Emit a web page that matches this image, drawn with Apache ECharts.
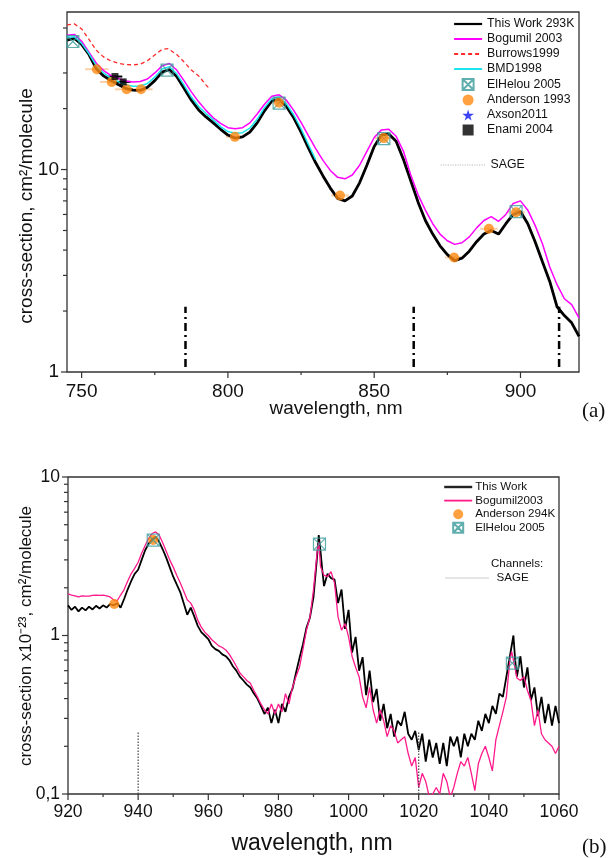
<!DOCTYPE html>
<html><head><meta charset="utf-8">
<script src="https://cdn.jsdelivr.net/npm/echarts@6/dist/echarts.min.js"></script>
<style>html,body{margin:0;padding:0;background:#fff}#c{width:611px;height:858px}</style>
</head><body><div id="c"></div>
<script>
// ================= Panel (a) data =================
const aXTicks = [750, 800, 850, 900];
const aXMinor = [775, 825, 875];
const aYTicks = [1, 10];
const aYMinor = [2, 3, 4, 5, 6, 7, 8, 9, 20, 30, 50];

const aThisWork = [[745,43.5],[747.5,44.6],[750,41.5],[752.5,37],[755,31.5],[757.5,29],[760,27.5],[762.5,26.3],[765,25.2],[767.5,24.7],[770,24.6],[772.5,25.5],[775,27.5],[777.5,30.3],[780,31.2],[782.5,28.8],[785,25.2],[787.5,22],[790,19.7],[792.5,18.2],[795,17],[797.5,15.8],[800,14.8],[802.5,14.3],[805,14.5],[807.5,15.3],[810,17],[812.5,19.5],[815,21.8],[817.5,22.3],[820,20.5],[822.5,18],[825,15.3],[827.5,12.8],[830,10.8],[832.5,9.3],[835,8.1],[837.5,7.2],[840,7.0],[842.5,7.4],[845,8.6],[847.5,10.5],[850,13],[852.5,14.8],[855,15],[857.5,13.8],[860,11.2],[862.5,8.8],[865,6.9],[867.5,5.6],[870,4.8],[872.5,4.2],[875,3.8],[877.5,3.55],[880,3.65],[882.5,3.95],[885,4.4],[887.5,4.8],[890,5.0],[892.5,4.8],[895,5.4],[897.5,6.0],[900,6.2],[902.5,5.4],[905,4.4],[907.5,3.5],[910,2.8],[912.5,2.1],[915,1.9],[917.5,1.75],[920,1.5]];
const aBogumil = [[745,46],[747.5,46.5],[750,43],[752.5,38],[755,33.5],[757.5,30.8],[760,29.2],[762.5,28.2],[765,27.4],[767.5,27.1],[770,27.2],[772.5,28],[775,30],[777.5,32.5],[780,33.4],[782.5,31],[785,27.5],[787.5,24.2],[790,21.6],[792.5,19.6],[795,18],[797.5,16.9],[800,16.1],[802.5,15.9],[805,16.1],[807.5,17],[810,18.8],[812.5,21],[815,23],[817.5,23.4],[820,22],[822.5,19.6],[825,17.1],[827.5,14.7],[830,12.7],[832.5,11.1],[835,9.9],[837.5,9.15],[840,9.0],[842.5,9.4],[845,10.5],[847.5,12.3],[850,14.4],[852.5,15.7],[855,15.8],[857.5,14.6],[860,12.3],[862.5,9.4],[865,7.5],[867.5,6.3],[870,5.4],[872.5,4.8],[875,4.45],[877.5,4.27],[880,4.35],[882.5,4.65],[885,5.15],[887.5,5.6],[890,5.85],[892.5,5.55],[895,6.0],[897.5,6.8],[900,7.0],[902.5,6.3],[905,5.3],[907.5,4.3],[910,3.3],[912.5,2.7],[915,2.3],[917.5,2.15],[920,1.85]];
const aBurrows = [[745,51.8],[747.5,52.4],[750,49.5],[752.5,44],[755,38.8],[757.5,36],[760,34.4],[762.5,33.5],[765,33],[767.5,32.9],[770,33.1],[772.5,34.5],[775,36.8],[777.5,39.2],[779.5,39.6],[782.5,37],[785,34],[787.5,31],[790,29],[792.5,26.2],[794,24.8]];
const aBMD = [[745,45],[747.5,45.3],[750,42],[752.5,37.4],[755,32.6],[757.5,30],[760,28.3],[762.5,27.2],[765,26.2],[767.5,25.8],[770,25.8],[772.5,26.6],[775,28.6],[777.5,31.4],[780,32.2],[782.5,29.7],[785,26.1],[787.5,22.8],[790,20.5],[792.5,18.9],[795,17.6],[797.5,16.3],[800,15.4],[802.5,15.1],[805,15.2],[807.5,16],[810,17.7],[812.5,20.2],[815,22.4],[817.5,22.8],[820,21.1],[822.5,18.6],[825,15.9],[827.5,13.3],[830,11.2]];
const aElHelou = [[747,42.9],[779.2,31.0],[817.5,21.3],[853.3,14.2],[898.5,6.2]];
const aAnderson = [[755.2,31.3],[760.3,27.1],[765.4,24.9],[770.3,24.9],[802.4,14.5],[817.5,21.4],[838.3,7.45],[853.3,14.3],[877.3,3.68],[889.2,5.1],[898.5,6.15]];
const aAndersonErr = [4, 4, 4, 4, 3, 3, 3, 3, 3, 3, 3];
const aAxson = [];
const aEnami = [[761.4,28.8],[764.2,27.1]];
const aEnamiErr = [2.5, 2.5];
const aSage = [785.5, 863.5, 913.2];
const aSageRange = [1.06, 2.1];

// ================= Panel (b) data =================
const bXTicks = [920, 940, 960, 980, 1000, 1020, 1040, 1060];
const bXMinor = [930, 950, 970, 990, 1010, 1030, 1050];
const bYTicks = [0.1, 1, 10];
const bYLabels = ['0,1', '1', '10'];
const bYMinor = [0.2,0.3,0.4,0.5,0.6,0.7,0.8,0.9,2,3,4,5,6,7,8,9];

const bThisWork = [[920,1.55],[921,1.45],[922,1.52],[923,1.42],[924,1.5],[925,1.44],[926,1.52],[927,1.46],[928,1.54],[929,1.48],[930,1.55],[931,1.5],[932,1.58],[933,1.55],[934,1.6],[935,1.5],[936,1.7],[937,1.95],[938,2.2],[939,2.45],[940,2.6],[941,3.0],[942,3.45],[943,3.8],[944,4.05],[945,4.2],[946,3.9],[947,3.5],[948,3.1],[949,2.7],[950,2.35],[951,2.1],[952,1.88],[953,1.6],[954,1.35],[955,1.5],[956,1.32],[957,1.15],[958,1.05],[959,1.0],[960,0.95],[961,0.86],[962,0.82],[963,0.8],[964,0.76],[965,0.74],[966,0.70],[967,0.64],[968,0.60],[969,0.55],[970,0.52],[971,0.49],[972,0.47],[973,0.43],[974,0.40],[975,0.36],[976,0.32],[977,0.35],[978,0.28],[979,0.34],[980,0.28],[981,0.37],[982,0.33],[983,0.41],[984,0.46],[985,0.58],[986,0.72],[987,0.88],[988,1.12],[989,1.3],[990,1.75],[991,3.1],[991.5,4.3],[992,3.4],[992.5,2.6],[993,2.05],[994,2.45],[995,2.3],[996,2.25],[997,1.6],[998,1.95],[999,1.1],[1000,1.45],[1001,0.78],[1002,0.98],[1003,0.6],[1004,0.73],[1005,0.42],[1006,0.6],[1007,0.38],[1008,0.46],[1009,0.29],[1010,0.37],[1011,0.26],[1012,0.32],[1013,0.23],[1014,0.29],[1015,0.27],[1016,0.33],[1017,0.24],[1018,0.22],[1019,0.25],[1020,0.19],[1021,0.24],[1022,0.16],[1023,0.22],[1024,0.17],[1025,0.21],[1026,0.155],[1027,0.21],[1028,0.15],[1029,0.23],[1030,0.2],[1031,0.23],[1032,0.17],[1033,0.24],[1034,0.2],[1035,0.24],[1036,0.22],[1037,0.29],[1038,0.25],[1039,0.32],[1040,0.28],[1041,0.36],[1042,0.32],[1043,0.43],[1044,0.41],[1045,0.55],[1046,0.74],[1047,1.0],[1047.5,0.7],[1048,0.55],[1049,0.74],[1050,0.47],[1051,0.63],[1052,0.39],[1053,0.47],[1054,0.31],[1055,0.41],[1056,0.28],[1057,0.37],[1058,0.27],[1059,0.36],[1060,0.28]];
const bBogumil = [[920,1.83],[921,1.8],[922,1.78],[923,1.75],[924,1.78],[925,1.77],[926,1.77],[927,1.79],[928,1.8],[929,1.79],[930,1.8],[931,1.78],[932,1.75],[933,1.68],[934,1.65],[935,1.8],[936,1.95],[937,2.2],[938,2.45],[939,2.65],[940,2.9],[941,3.3],[942,3.7],[943,4.1],[944,4.4],[945,4.5],[946,4.3],[947,3.85],[948,3.4],[949,3.0],[950,2.7],[951,2.4],[952,2.15],[953,1.9],[954,1.68],[955,1.6],[956,1.45],[957,1.25],[958,1.13],[959,1.05],[960,1.0],[961,0.94],[962,0.9],[963,0.86],[964,0.84],[965,0.81],[966,0.76],[967,0.7],[968,0.64],[969,0.58],[970,0.55],[971,0.52],[972,0.5],[973,0.45],[974,0.41],[975,0.37],[976,0.34],[977,0.32],[978,0.37],[979,0.32],[980,0.37],[981,0.33],[982,0.43],[983,0.37],[984,0.47],[985,0.55],[986,0.63],[987,0.82],[988,1.08],[989,1.31],[990,1.94],[991,3.3],[991.5,3.9],[992,2.72],[993,2.4],[994,2.35],[995,2.53],[996,2.14],[997,1.31],[998,1.08],[999,1.19],[1000,0.98],[1001,0.74],[1002,0.63],[1003,0.55],[1004,0.41],[1005,0.35],[1006,0.47],[1007,0.34],[1008,0.28],[1009,0.34],[1010,0.29],[1011,0.23],[1012,0.27],[1013,0.25],[1014,0.21],[1015,0.22],[1016,0.23],[1017,0.18],[1018,0.15],[1019,0.17],[1020,0.11],[1021,0.135],[1022,0.12],[1023,0.096],[1024,0.1],[1025,0.11],[1026,0.1],[1027,0.135],[1028,0.12],[1029,0.095],[1030,0.11],[1031,0.135],[1032,0.16],[1033,0.15],[1034,0.17],[1035,0.135],[1036,0.105],[1037,0.155],[1038,0.18],[1039,0.2],[1040,0.17],[1041,0.14],[1042,0.22],[1043,0.27],[1044,0.33],[1045,0.41],[1046,0.7],[1046.5,0.79],[1047,0.7],[1048,0.54],[1049,0.52],[1050,0.55],[1051,0.45],[1052,0.39],[1053,0.27],[1054,0.34],[1055,0.24],[1056,0.22],[1057,0.21],[1058,0.2],[1059,0.18],[1060,0.2]];
const bAnderson = [[933.2,1.58],[944.3,4.0]];
const bElHelou = [[944.3,4.0],[991.7,3.77],[1046.7,0.67]];
const bSage = [940, 1020];
const bSageRange = [0.1, 0.25];

// ================= styling =================
const FONT = '"Liberation Sans", Arial, Helvetica, sans-serif';
const SERIF = '"Liberation Serif", "Times New Roman", serif';
const AXC = '#333';
const A = {xMin: 745, xMax: 920, yMin: 1, yMax: 60};
const B = {xMin: 920, xMax: 1060, yMin: 0.1, yMax: 10};
const BOX = 'path://M0,0 L10,0 L10,10 L0,10 Z M0,0 L10,10 M10,0 L0,10';
const SQUARE = 'path://M0,0 L10,0 L10,10 L0,10 Z';
const STAR = 'path://M50,0 L61,35 L98,35 L68,57 L79,91 L50,70 L21,91 L32,57 L2,35 L39,35 Z';
const NOSYM = {color: 'rgba(0,0,0,0)', borderColor: 'rgba(0,0,0,0)', borderWidth: 0};

function txt(text, size, family, align, vAlign) {
  return {text, fill: '#111', font: size + 'px ' + family,
    align, verticalAlign: vAlign, textAlign: align, textVerticalAlign: vAlign};
}
function xTicks(gi, vals, yBase, len, fmt, fs, dy) {
  return {type: 'custom', xAxisIndex: gi, yAxisIndex: gi, silent: true, clip: false, z: 6,
    data: vals.map(v => [v, yBase]),
    renderItem: (p, api) => {
      const v = api.value(0); const c = api.coord([v, yBase]);
      const ch = [{type: 'line', shape: {x1: c[0], y1: c[1], x2: c[0], y2: c[1] + len}, style: {stroke: AXC, lineWidth: 1.2}}];
      if (fmt) ch.push({type: 'text', x: c[0], y: c[1] + dy, style: txt(fmt(v, p.dataIndex), fs, FONT, 'center', 'middle')});
      return {type: 'group', children: ch};
    }};
}
function yTicks(gi, vals, xBase, len, fmt, fs, dx) {
  return {type: 'custom', xAxisIndex: gi, yAxisIndex: gi, silent: true, clip: false, z: 6,
    data: vals.map(v => [xBase, v]),
    renderItem: (p, api) => {
      const v = api.value(1); const c = api.coord([xBase, v]);
      const ch = [{type: 'line', shape: {x1: c[0] - len, y1: c[1], x2: c[0], y2: c[1]}, style: {stroke: AXC, lineWidth: 1.2}}];
      if (fmt) ch.push({type: 'text', x: c[0] - dx, y: c[1], style: txt(fmt(v, p.dataIndex), fs, FONT, 'right', 'middle')});
      return {type: 'group', children: ch};
    }};
}
function errBars(gi, pts, errs, color) {
  return {type: 'custom', xAxisIndex: gi, yAxisIndex: gi, silent: true, clip: true, z: 2,
    data: pts.map((d, i) => [d[0], d[1], errs[i]]),
    renderItem: (p, api) => {
      const x = api.value(0), y = api.value(1), e = api.value(2);
      const a = api.coord([x - e, y]), b = api.coord([x + e, y]);
      return {type: 'line', shape: {x1: a[0], y1: a[1], x2: b[0], y2: b[1]}, style: {stroke: color, lineWidth: 2}};
    }};
}
function vLines(name, gi, xs, range, style) {
  return xs.map(x => ({type: 'line', name, xAxisIndex: gi, yAxisIndex: gi, symbol: 'none', silent: true,
    data: [[x, range[0]], [x, range[1]]], lineStyle: style, z: 3}));
}
function lineS(name, gi, data, color, width, type) {
  return {type: 'line', name, xAxisIndex: gi, yAxisIndex: gi, data, symbol: 'none', silent: true,
    lineStyle: {color, width, type: type || 'solid'}, itemStyle: {color}, z: 3};
}
function scatterS(name, gi, data, symbol, size, itemStyle) {
  return {type: 'scatter', name, xAxisIndex: gi, yAxisIndex: gi, data, symbol, symbolSize: size,
    silent: true, itemStyle, z: 4};
}
function lineLegend(name, extra) {
  return {name, itemStyle: NOSYM, lineStyle: extra || undefined};
}
const hiddenAxis = {axisLine: {show: false}, axisTick: {show: false}, axisLabel: {show: false}, splitLine: {show: false}};

const chart = echarts.init(document.getElementById('c'), null, {renderer: 'canvas'});
const option = {
  animation: false,
  backgroundColor: '#fff',
  grid: [
    {left: 67, top: 12, width: 512, height: 360, show: true, borderColor: AXC, borderWidth: 1.3},
    {left: 68, top: 477, width: 491, height: 317, show: true, borderColor: AXC, borderWidth: 1.3}
  ],
  xAxis: [
    Object.assign({type: 'value', gridIndex: 0, min: A.xMin, max: A.xMax}, hiddenAxis),
    Object.assign({type: 'value', gridIndex: 1, min: B.xMin, max: B.xMax}, hiddenAxis)
  ],
  yAxis: [
    Object.assign({type: 'log', logBase: 10, gridIndex: 0, min: A.yMin, max: A.yMax}, hiddenAxis),
    Object.assign({type: 'log', logBase: 10, gridIndex: 1, min: B.yMin, max: B.yMax}, hiddenAxis)
  ],
  legend: [
    {left: 448, top: 13, orient: 'vertical', itemWidth: 28, itemHeight: 11, itemGap: 3.0, selectedMode: false,
      textStyle: {fontSize: 12.3, fontFamily: FONT, color: '#111'},
      data: [lineLegend('This Work 293K', {width: 2.2}), lineLegend('Bogumil 2003'), lineLegend('Burrows1999'), lineLegend('BMD1998'),
        'ElHelou 2005', 'Anderson 1993', 'Axson2011', 'Enami 2004']},
    {left: 435, top: 154, orient: 'vertical', itemWidth: 45, itemHeight: 11, selectedMode: false,
      textStyle: {fontSize: 12.3, fontFamily: FONT, color: '#111'},
      data: [lineLegend('SAGE', {color: '#b8b8b8', width: 1.2, type: 'dotted'})]},
    {left: 438, top: 476, orient: 'vertical', itemWidth: 28, itemHeight: 10, itemGap: 1.6, selectedMode: false,
      textStyle: {fontSize: 11.6, fontFamily: FONT, color: '#111', padding: [0, 0, 0, -2]},
      data: [lineLegend('This Work', {width: 2.4, color: '#222'}), lineLegend('Bogumil2003', {width: 1.8}), 'Anderson 294K', 'ElHelou 2005']},
    {left: 440, top: 567, orient: 'vertical', itemWidth: 43, itemHeight: 10, selectedMode: false,
      formatter: () => 'SAGE',
      textStyle: {fontSize: 11.6, fontFamily: FONT, color: '#111', padding: [0, 0, 0, 3]},
      data: [lineLegend('SAGE channels', {color: '#999', width: 1, type: 'dotted'})]}
  ],
  graphic: [
    {type: 'text', x: 27, y: 206, rotation: Math.PI / 2, style: txt('cross-section, cm²/molecule', 19, FONT, 'center', 'middle')},
    {type: 'text', x: 336, y: 409, style: txt('wavelength, nm', 19, FONT, 'center', 'middle')},
    {type: 'text', x: 582, y: 411, style: txt('(a)', 21, SERIF, 'left', 'middle')},
    {type: 'text', x: 26, y: 636, rotation: Math.PI / 2, style: txt('cross-section x10⁻²³, cm²/molecule', 17, FONT, 'center', 'middle')},
    {type: 'text', x: 312, y: 844, style: txt('wavelength, nm', 23, FONT, 'center', 'middle')},
    {type: 'text', x: 582, y: 847, style: txt('(b)', 21, SERIF, 'left', 'middle')},
    {type: 'text', x: 491, y: 564, style: txt('Channels:', 11.6, FONT, 'left', 'middle')}
  ],
  series: [
    // ---- panel (a) ----
    lineS('This Work 293K', 0, aThisWork, '#000', 2.8),
    lineS('Bogumil 2003', 0, aBogumil, '#ff00ff', 1.5),
    lineS('Burrows1999', 0, aBurrows, '#ff2a2a', 1.3, [4, 3]),
    lineS('BMD1998', 0, aBMD, '#1ee6ee', 1.5),
    errBars(0, aAnderson, aAndersonErr, '#f9cfa8'),
    errBars(0, aEnami, aEnamiErr, '#000'),
    scatterS('ElHelou 2005', 0, aElHelou, BOX, 12, {color: 'rgba(0,0,0,0)', borderColor: '#3a9a9a', borderWidth: 1.2}),
    scatterS('Anderson 1993', 0, aAnderson, 'circle', 10, {color: '#ff8a12'}),
    scatterS('Axson2011', 0, aAxson, STAR, 12, {color: '#0a14f0'}),
    scatterS('Enami 2004', 0, aEnami, SQUARE, 7, {color: '#000'}),
    ...vLines('SAGE', 0, aSage, aSageRange, {color: '#000', width: 2.5, type: [8, 4, 2, 4]}),
    xTicks(0, aXTicks, A.yMin, 6, v => String(v), 19, 20),
    xTicks(0, aXMinor, A.yMin, 3, null),
    yTicks(0, aYTicks, A.xMin, 6, v => String(v), 19, 8),
    yTicks(0, aYMinor, A.xMin, 4, null),
    // ---- panel (b) ----
    lineS('This Work', 1, bThisWork, '#000', 1.8),
    lineS('Bogumil2003', 1, bBogumil, '#ff1a8c', 1.3),
    scatterS('Anderson 294K', 1, bAnderson, 'circle', 10, {color: '#ff8a12'}),
    scatterS('ElHelou 2005', 1, bElHelou, BOX, 12, {color: 'rgba(0,0,0,0)', borderColor: '#3a9a9a', borderWidth: 1.2}),
    ...vLines('SAGE channels', 1, bSage, bSageRange, {color: '#444', width: 1.2, type: [1.5, 1.5]}),
    xTicks(1, bXTicks, B.yMin, 6, v => String(v), 17.5, 18),
    xTicks(1, bXMinor, B.yMin, 3, null),
    yTicks(1, bYTicks, B.xMin, 6, (v, i) => bYLabels[i], 17.5, 8),
    yTicks(1, bYMinor, B.xMin, 4, null)
  ]
};
chart.setOption(option);
</script>
</body></html>
